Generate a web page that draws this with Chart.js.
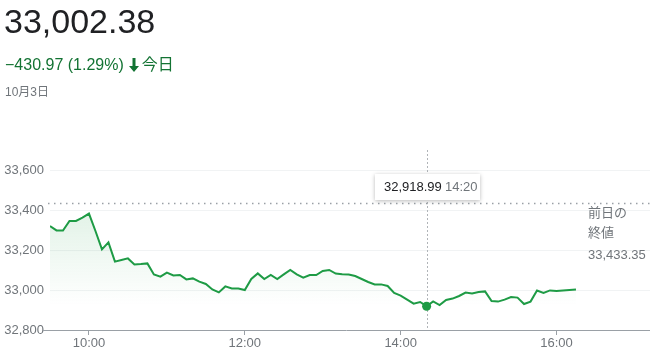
<!DOCTYPE html>
<html>
<head>
<meta charset="utf-8">
<script src="https://cdn.jsdelivr.net/npm/chart.js@4.4.0/dist/chart.umd.min.js"></script>
<style>
  html, body { margin: 0; padding: 0; background: #fff; }
  body {
    width: 650px; height: 352px; position: relative; overflow: hidden;
    font-family: Arial, "Liberation Sans", "Noto Sans CJK JP", sans-serif;
  }
  #chartBox { position: absolute; left: 0; top: 0; width: 650px; height: 352px; }
  .price { position: absolute; left: 4px; top: 2px; font-size: 34px; color: #202124; }
  .change { position: absolute; left: 5px; top: 51px; font-size: 16px; color: #137333; white-space: nowrap; }
  .change svg { vertical-align: -2px; margin: 0 2px 0 4px; }
  .date { position: absolute; left: 5px; top: 82px; font-size: 12px; color: #70757a; }
</style>
</head>
<body>
<div id="chartBox"><canvas id="stockChart"></canvas></div>
<div class="price">33,002.38</div>
<div class="change">−430.97 (1.29%)<svg width="12" height="14" viewBox="0 0 12 14"><path d="M4.5 0h3v8h3.5L6 14 1 8h3.5z" fill="#137333"/></svg>今日</div>
<div class="date">10月3日</div>

<script>
// Dow Jones intraday, 5 minute points
const timeLabels = [
  "9:30", "9:35", "9:40", "9:45", "9:50", "9:55",
  "10:00", "10:05", "10:10", "10:15", "10:20", "10:25", "10:30", "10:35", "10:40", "10:45", "10:50", "10:55",
  "11:00", "11:05", "11:10", "11:15", "11:20", "11:25", "11:30", "11:35", "11:40", "11:45", "11:50", "11:55",
  "12:00", "12:05", "12:10", "12:15", "12:20", "12:25", "12:30", "12:35", "12:40", "12:45", "12:50", "12:55",
  "13:00", "13:05", "13:10", "13:15", "13:20", "13:25", "13:30", "13:35", "13:40", "13:45", "13:50", "13:55",
  "14:00", "14:05", "14:10", "14:15", "14:20", "14:25", "14:30", "14:35", "14:40", "14:45", "14:50", "14:55",
  "15:00", "15:05", "15:10", "15:15", "15:20", "15:25", "15:30", "15:35", "15:40", "15:45", "15:50", "15:55",
  "16:00", "16:05", "16:10", "16:15"
];
const priceValues = [
  33320, 33298, 33297, 33345, 33345, 33362,
  33382, 33295, 33203, 33238, 33142, 33150, 33158, 33128, 33130, 33133, 33078, 33067,
  33087, 33073, 33075, 33053, 33058, 33042, 33030, 33003, 32988, 33018, 33008, 33007,
  33000, 33055, 33083, 33055, 33075, 33055, 33078, 33100, 33078, 33062, 33075, 33075,
  33095, 33100, 33082, 33079, 33077, 33070, 33055, 33040, 33028, 33028, 33020, 32985,
  32972, 32952, 32932, 32940, 32918.99, 32943, 32925, 32950, 32957, 32970, 32987, 32983,
  32990, 32993, 32945, 32942, 32952, 32965, 32962, 32930, 32942, 32997, 32985, 32998,
  32995, 32998, 33000, 33002.38
];
const prevClose = 33433.35;
const yTicks = [32800, 33000, 33200, 33400, 33600];
const xTicks = ["10:00", "12:00", "14:00", "16:00"];
const hoverTime = "14:20";

const LINE_COLOR = "#1e9b45";
const GREY_TEXT = "#70757a";

function toMinutes(t) {
  const [h, m] = t.split(":").map(Number);
  return h * 60 + m;
}

const hoverIndex = timeLabels.indexOf(hoverTime);
const points = timeLabels.map((t, i) => ({ x: toMinutes(t), y: priceValues[i] }));

// dotted previous close, crosshair, tooltip box and the side label
const guidesPlugin = {
  id: "guides",
  beforeDatasetsDraw(chart) {
    const { ctx, chartArea, scales } = chart;
    const yPrev = scales.y.getPixelForValue(prevClose);
    const xHover = scales.x.getPixelForValue(toMinutes(hoverTime));

    ctx.save();
    // previous close dotted line
    ctx.strokeStyle = "#9aa0a6";
    ctx.lineWidth = 1.5;
    ctx.setLineDash([1.5, 4.5]);
    ctx.beginPath();
    ctx.moveTo(chartArea.left - 2, Math.round(yPrev) + 0.5);
    ctx.lineTo(chartArea.right, Math.round(yPrev) + 0.5);
    ctx.stroke();

    // crosshair
    ctx.lineWidth = 1;
    ctx.strokeStyle = "#b0b4b8";
    ctx.setLineDash([2, 2]);
    ctx.beginPath();
    ctx.moveTo(Math.round(xHover) + 0.5, 150);
    ctx.lineTo(Math.round(xHover) + 0.5, chartArea.bottom);
    ctx.stroke();

    // bottom axis line
    ctx.setLineDash([]);
    ctx.strokeStyle = "#9aa0a6";
    ctx.beginPath();
    ctx.moveTo(43, chartArea.bottom + 0.5);
    ctx.lineTo(chartArea.right, chartArea.bottom + 0.5);
    ctx.stroke();
    ctx.restore();
  },
  afterDatasetsDraw(chart) {
    const { ctx, scales } = chart;
    const xHover = scales.x.getPixelForValue(toMinutes(hoverTime));

    ctx.save();
    // tooltip box
    const boxX = Math.round(xHover) - 52;
    const boxY = 174;
    ctx.shadowColor = "rgba(0,0,0,0.28)";
    ctx.shadowBlur = 4;
    ctx.shadowOffsetY = 1;
    ctx.fillStyle = "#fff";
    ctx.fillRect(boxX, boxY, 105, 26);
    ctx.shadowColor = "transparent";

    ctx.font = "13px Arial, 'Liberation Sans'";
    ctx.textBaseline = "middle";
    ctx.textAlign = "left";
    ctx.fillStyle = "#202124";
    ctx.fillText(priceValues[hoverIndex].toLocaleString("en-US", { minimumFractionDigits: 2 }), boxX + 9, boxY + 13);
    ctx.fillStyle = GREY_TEXT;
    ctx.fillText(hoverTime, boxX + 70, boxY + 13);

    // previous close label
    ctx.font = "13px Arial, 'Noto Sans CJK JP'";
    ctx.fillText("前日の", 588, 213);
    ctx.fillText("終値", 588, 233);
    ctx.fillText(prevClose.toLocaleString("en-US", { minimumFractionDigits: 2 }), 588, 255);
    ctx.restore();
  }
};

const ctx = document.getElementById("stockChart").getContext("2d");

new Chart(ctx, {
  type: "line",
  data: {
    datasets: [
      {
        data: points,
        borderColor: LINE_COLOR,
        borderWidth: 2,
        tension: 0,
        fill: "start",
        backgroundColor: (c) => {
          const area = c.chart.chartArea;
          if (!area) return "transparent";
          const g = c.chart.ctx.createLinearGradient(0, area.top + 40, 0, area.top + 135);
          g.addColorStop(0, "rgba(30,155,69,0.13)");
          g.addColorStop(1, "rgba(30,155,69,0)");
          return g;
        },
        pointRadius: (c) => (c.dataIndex === hoverIndex ? 4.5 : 0),
        pointBackgroundColor: LINE_COLOR,
        pointBorderWidth: 0,
      },
    ],
  },
  options: {
    responsive: true,
    maintainAspectRatio: false,
    animation: false,
    events: [],
    layout: { padding: { top: 170, left: 0, right: 0, bottom: 0 } },
    plugins: {
      legend: { display: false },
      tooltip: { enabled: false },
    },
    scales: {
      x: {
        type: "linear",
        min: 570,
        max: 1032,
        afterBuildTicks: (scale) => {
          scale.ticks = xTicks.map((t) => ({ value: toMinutes(t) }));
        },
        afterFit: (scale) => {
          scale.height = 22;
        },
        ticks: {
          autoSkip: false,
          maxRotation: 0,
          padding: 1,
          color: GREY_TEXT,
          font: { family: "Arial, 'Liberation Sans'", size: 13 },
          callback: (value) => xTicks.find((t) => toMinutes(t) === value) || "",
        },
        grid: {
          drawOnChartArea: false,
          drawTicks: true,
          tickLength: 5,
          color: "#9aa0a6",
        },
        border: { display: false },
      },
      y: {
        min: 32800,
        max: 33600,
        afterBuildTicks: (scale) => {
          scale.ticks = yTicks.map((v) => ({ value: v }));
        },
        afterFit: (scale) => {
          scale.width = 50;
        },
        ticks: {
          padding: 6,
          color: GREY_TEXT,
          font: { family: "Arial, 'Liberation Sans'", size: 13 },
          callback: (value) => value.toLocaleString("en-US"),
        },
        grid: {
          drawTicks: false,
          color: (c) => (c.tick && c.tick.value === 32800 ? "rgba(0,0,0,0)" : "#f1f3f4"),
        },
        border: { display: false },
      },
    },
  },
  plugins: [guidesPlugin],
});
</script>
</body>
</html>
